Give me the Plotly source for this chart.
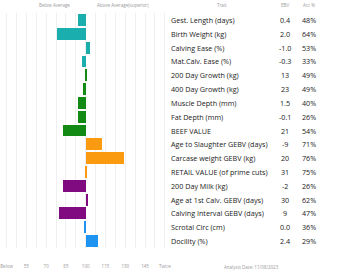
import plotly.graph_objects as go

traits = ["Gest. Length (days)", "Birth Weight (kg)", "Calving Ease (%)", "Mat.Calv. Ease (%)",
          "200 Day Growth (kg)", "400 Day Growth (kg)", "Muscle Depth (mm)", "Fat Depth (mm)",
          "BEEF VALUE", "Age to Slaughter GEBV (days)", "Carcase weight GEBV (kg)",
          "RETAIL VALUE (of prime cuts)", "200 Day Milk (kg)", "Age at 1st Calv. GEBV (days)",
          "Calving Interval GEBV (days)", "Scrotal Circ (cm)", "Docility (%)"]
ebv = ["0.4", "2.0", "-1.0", "-0.3", "13", "23", "1.5", "-0.1", "21", "-9", "20", "31",
       "-2", "30", "9", "0.0", "2.4"]
acc = ["48%", "64%", "53%", "33%", "49%", "49%", "40%", "26%", "54%", "71%", "76%", "75%",
       "26%", "62%", "47%", "36%", "29%"]
index_vals = [94, 78.5, 103.3, 97, 100.6, 98.2, 94, 94, 83, 112, 129, 100.6,
              83, 101.8, 79.5, 98.5, 109]
groups = ["teal"] * 4 + ["green"] * 5 + ["orange"] * 3 + ["purple"] * 3 + ["blue"] * 2
tick_vals = [40, 55, 70, 85, 100, 115, 130, 145, 160]
tick_text = ["Below", "55", "70", "85", "100", "115", "130", "145", "Twice"]

palette = {"teal": "#1aaeae", "green": "#138a13", "orange": "#f99a10",
           "purple": "#800a80", "blue": "#1e93f0"}

W, H = 345, 276
T, B = 13, 28
PH = H - T - B


def py(px):
    return (H - B - px) / PH


fig = go.Figure()
fig.add_trace(go.Bar(
    y=traits, x=[v - 100 for v in index_vals], base=100, orientation="h",
    marker=dict(color=[palette[g] for g in groups], line=dict(width=0)),
    width=0.86, hoverinfo="skip",
))

font = "Open Sans"
ann = []
for t, e, a in zip(traits, ebv, acc):
    ann.append(dict(x=170 / W, y=t, xref="paper", yref="y", text=t, showarrow=False,
                    xanchor="left", font=dict(size=7.2, color="#222", family=font)))
    ann.append(dict(x=287 / W, y=t, xref="paper", yref="y", text=e, showarrow=False,
                    xanchor="center", font=dict(size=7.2, color="#222", family=font)))
    ann.append(dict(x=311 / W, y=t, xref="paper", yref="y", text=a, showarrow=False,
                    xanchor="center", font=dict(size=7.2, color="#222", family=font)))

hdr = dict(size=4.5, color="#999", family=font)
for txt, xp, ypx in [("Below Average", 55, 5), ("Above Average(superior)", 124, 5),
                     ("Trait", 223, 5), ("EBV", 287, 5), ("Acc %", 311, 5),
                     ("Analysis Date: 11/08/2023", 253, 267)]:
    ann.append(dict(x=xp / W, y=py(ypx), xref="paper", yref="paper", text=txt,
                    showarrow=False, xanchor="center", yanchor="middle", font=hdr))

fig.update_layout(
    width=W, height=H, margin=dict(l=0, r=0, t=T, b=B),
    paper_bgcolor="white", plot_bgcolor="white", showlegend=False,
    annotations=ann, bargap=0,
    xaxis=dict(domain=[0, 170 / W], range=[35.0, 163.2], tickvals=tick_vals,
               ticktext=tick_text, showgrid=True, gridcolor="#efefef", gridwidth=1,
               minor=dict(dtick=7.5, tick0=40, showgrid=True, gridcolor="#efefef"),
               zeroline=False, showline=False, ticks="", ticklen=0,
               ticklabelstandoff=14,
               tickfont=dict(size=4.5, color="#999", family=font), fixedrange=True),
    yaxis=dict(autorange="reversed", showticklabels=False, showgrid=False,
               zeroline=False, showline=False, fixedrange=True),
)
fig.write_html("out.html", config={"displayModeBar": False})
